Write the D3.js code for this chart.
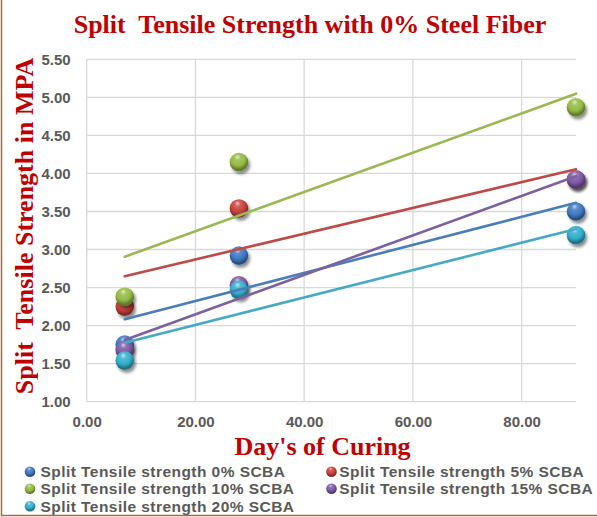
<!DOCTYPE html>
<html>
<head>
<meta charset="utf-8">
<script src="https://cdn.jsdelivr.net/npm/d3@7/dist/d3.min.js"></script>
<style>
  html, body { margin: 0; padding: 0; background: #fff; }
  svg { display: block; }
</style>
</head>
<body>
<svg id="chart" width="597" height="517"></svg>
<script>
// ---- Data ----
const days = [7, 28, 90];
const seriesNames = [
  "Split Tensile strength 0% SCBA",
  "Split Tensile strength 5% SCBA",
  "Split Tensile strength 10% SCBA",
  "Split Tensile strength 15% SCBA",
  "Split Tensile strength 20% SCBA"
];
const s0  = [1.75, 2.92, 3.50];
const s5  = [2.25, 3.54, 3.92];
const s10 = [2.38, 4.15, 4.87];
const s15 = [1.68, 2.53, 3.92];
const s20 = [1.54, 2.47, 3.19];
const seriesValues = [s0, s5, s10, s15, s20];
const xTicks = [0, 20, 40, 60, 80];
const yTicks = [1.0, 1.5, 2.0, 2.5, 3.0, 3.5, 4.0, 4.5, 5.0, 5.5];
const titleText = "Split  Tensile Strength with 0% Steel Fiber";
const xTitle = "Day's of Curing";
const yTitle = "Split  Tensile Strength in MPA";

// ---- Style ----
const ballColors = ["#3f78c2", "#c9403c", "#94bb44", "#7d58a6", "#32aecb"];
const lineColors = ["#4a7ebb", "#be4b48", "#98b954", "#7d60a0", "#46aac5"];
const redText = "#c00000";
const grey = "#595959";

const svg = d3.select("#chart");
const W = 597, H = 517;
const plot = { left: 86.7, right: 576, top: 59.3, bottom: 401.7 };

const x = d3.scaleLinear().domain([0, 90]).range([plot.left, plot.right]);
const y = d3.scaleLinear().domain([1, 5.5]).range([plot.bottom, plot.top]);

// defs: gradients + shadow
const defs = svg.append("defs");
ballColors.forEach((c, i) => {
  const g = defs.append("radialGradient")
    .attr("id", "ball" + i)
    .attr("cx", "45%").attr("cy", "35%").attr("r", "65%")
    .attr("fx", "42%").attr("fy", "22%");
  const col = d3.color(c);
  g.append("stop").attr("offset", "0%").attr("stop-color", d3.interpolateRgb(c, "#ffffff")(0.7));
  g.append("stop").attr("offset", "25%").attr("stop-color", d3.interpolateRgb(c, "#ffffff")(0.15));
  g.append("stop").attr("offset", "60%").attr("stop-color", c);
  g.append("stop").attr("offset", "90%").attr("stop-color", col.darker(1.3).formatHex());
  g.append("stop").attr("offset", "100%").attr("stop-color", col.darker(0.9).formatHex());
});
const f = defs.append("filter").attr("id", "shadow")
  .attr("x", "-50%").attr("y", "-50%").attr("width", "200%").attr("height", "200%");
f.append("feGaussianBlur").attr("in", "SourceAlpha").attr("stdDeviation", 1.6).attr("result", "b");
f.append("feOffset").attr("in", "b").attr("dx", 1.5).attr("dy", 2.5).attr("result", "o");
f.append("feComponentTransfer").attr("in", "o").attr("result", "s")
  .append("feFuncA").attr("type", "linear").attr("slope", 0.45);
const fm = f.append("feMerge");
fm.append("feMergeNode").attr("in", "s");
fm.append("feMergeNode").attr("in", "SourceGraphic");

// background
svg.append("rect").attr("width", W).attr("height", H).attr("fill", "#fff");

// gridlines
const grid = svg.append("g");
grid.selectAll("line.h").data(yTicks).join("line")
  .attr("x1", plot.left).attr("x2", plot.right)
  .attr("y1", d => y(d)).attr("y2", d => y(d))
  .attr("stroke", "#d9d9d9").attr("stroke-width", 1.3);
grid.selectAll("line.v").data(xTicks).join("line")
  .attr("x1", d => x(d)).attr("x2", d => x(d))
  .attr("y1", plot.top).attr("y2", plot.bottom)
  .attr("stroke", "#d9d9d9").attr("stroke-width", 1.3);

// axes (labels via d3 axis)
const yAxis = d3.axisLeft(y).tickValues(yTicks).tickFormat(d3.format(".2f")).tickSize(0).tickPadding(16);
const gy = svg.append("g").attr("transform", `translate(${plot.left},0)`).call(yAxis);
gy.select(".domain").remove();
gy.selectAll("text").attr("fill", grey).attr("font-family", "Liberation Sans, Arial, sans-serif")
  .attr("font-weight", "bold").attr("font-size", "15px");

const xAxis = d3.axisBottom(x).tickValues(xTicks).tickFormat(d3.format(".2f")).tickSize(0).tickPadding(15);
const gx = svg.append("g").attr("transform", `translate(0,${plot.bottom})`).call(xAxis);
gx.select(".domain").remove();
gx.selectAll("text").attr("fill", grey).attr("font-family", "Liberation Sans, Arial, sans-serif")
  .attr("font-weight", "bold").attr("font-size", "15px");

// balls
const radius = 9.3;
seriesValues.forEach((vals, i) => {
  svg.append("g").selectAll("circle").data(vals.map((v, j) => ({ d: days[j], v }))).join("circle")
    .attr("cx", p => x(p.d)).attr("cy", p => y(p.v)).attr("r", radius)
    .attr("fill", `url(#ball${i})`).attr("filter", "url(#shadow)");
});

// linear trendlines (least squares from the data)
function fit(xs, ys) {
  const mx = d3.mean(xs), my = d3.mean(ys);
  let sxy = 0, sxx = 0;
  xs.forEach((xv, k) => { sxy += (xv - mx) * (ys[k] - my); sxx += (xv - mx) ** 2; });
  const b = sxy / sxx;
  return xv => my + b * (xv - mx);
}
const xExt = d3.extent(days);
seriesValues.forEach((vals, i) => {
  const fn = fit(days, vals);
  svg.append("line")
    .attr("x1", x(xExt[0])).attr("y1", y(fn(xExt[0])))
    .attr("x2", x(xExt[1])).attr("y2", y(fn(xExt[1])))
    .attr("stroke", lineColors[i]).attr("stroke-width", 2.6).attr("stroke-linecap", "round");
});

// titles
svg.append("text").attr("x", 310).attr("y", 33).attr("text-anchor", "middle")
  .attr("font-family", "Liberation Serif, Times New Roman, serif").attr("font-weight", "bold")
  .attr("font-size", "26px").attr("fill", redText).style("white-space", "pre").text(titleText);

svg.append("text").attr("x", 322.5).attr("y", 455).attr("text-anchor", "middle")
  .attr("font-family", "Liberation Serif, Times New Roman, serif").attr("font-weight", "bold")
  .attr("font-size", "26px").attr("fill", redText).text(xTitle);

svg.append("text").attr("transform", "translate(33,226) rotate(-90)").attr("text-anchor", "middle")
  .attr("font-family", "Liberation Serif, Times New Roman, serif").attr("font-weight", "bold")
  .attr("font-size", "26px").attr("fill", redText).style("white-space", "pre").text(yTitle);

// legend
const legendPos = [
  { mx: 30, tx: 40.5, ty: 471.7 }, { mx: 331.5, tx: 339.3, ty: 471.7 },
  { mx: 30, tx: 40.5, ty: 488.7 }, { mx: 331.5, tx: 339.3, ty: 488.7 },
  { mx: 30, tx: 40.5, ty: 506.2 }
];
const lg = svg.append("g");
seriesNames.forEach((name, i) => {
  const p = legendPos[i];
  lg.append("circle").attr("cx", p.mx).attr("cy", p.ty).attr("r", 5.3).attr("fill", `url(#ball${i})`);
  lg.append("text").attr("x", p.tx).attr("y", p.ty).attr("dy", "0.36em")
    .attr("font-family", "Liberation Sans, Arial, sans-serif").attr("font-weight", "bold")
    .attr("font-size", "15.5px").attr("letter-spacing", "0.45px").attr("fill", grey).text(name);
});

// chart frame (partially visible)
svg.append("rect").attr("x", 1.5).attr("y", -10).attr("width", 700).attr("height", 525.5)
  .attr("fill", "none").attr("stroke", "#b8652a").attr("stroke-width", 1.5);
</script>
</body>
</html>
